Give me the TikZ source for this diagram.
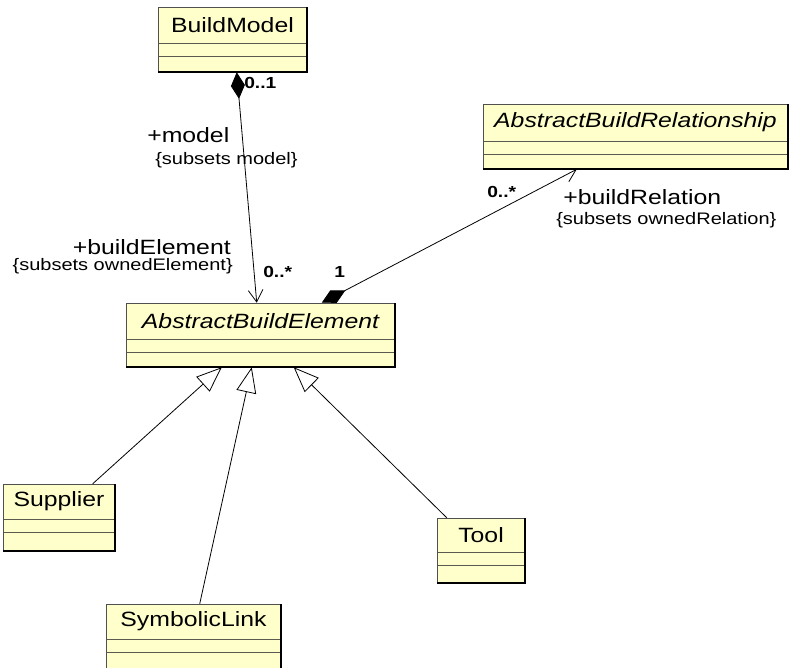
\documentclass[tikz,border=0pt]{standalone}
\usepackage{fontspec}
\setmainfont{Liberation Sans}
\newfontfamily\umlfont[FakeStretch=1.2]{Liberation Sans}
\newfontfamily\multfont[FakeStretch=1.2]{Liberation Sans}
\usetikzlibrary{arrows.meta,calc,fit}
\definecolor{classfill}{HTML}{FFFFCC}
\definecolor{compline}{HTML}{5A5A50}
\definecolor{edgegray}{HTML}{505050}
\newcommand\umlclass[9]{%
  \node[classbox, fit={(#2,#3) (#4,#5)}] (#1) {};
  \node[#8] (#1-name) at ($(#2,#3)!0.5!(#4,#6)$) {#9};
  \draw[compline, line width=0.75pt] (#2,#6) -- (#4,#6) (#2,#7) -- (#4,#7);
  \draw[edgegray, line width=0.75pt] (#2,#5) |- (#4,#3);
  \draw[black, line width=1.4pt] (#4,#3) |- (#2,#5);
}
\begin{document}
\begin{tikzpicture}[x=0.75pt,y=-0.75pt,
  classbox/.style={fill=classfill, draw=none, inner sep=0pt},
  classname/.style={font=\umlfont\fontsize{15.5}{18}\selectfont, inner sep=0pt},
  abstractname/.style={font=\umlfont\itshape\fontsize{15.5}{18}\selectfont, inner sep=0pt},
  rolename/.style={font=\umlfont\fontsize{15.5}{18}\selectfont, inner sep=0pt},
  constraint/.style={font=\umlfont\fontsize{12.5}{15}\selectfont, inner sep=0pt},
  mult/.style={font=\multfont\bfseries\fontsize{12}{14}\selectfont, inner sep=0pt},
  conn/.style={draw=black, line width=0.6pt},
  compo/.style={conn, {Diamond[length=20pt,width=10.5pt]}-{Straight Barb[length=9pt,width=11pt]}},
  gen/.style={conn, -{Triangle[length=19pt,width=15pt,fill=white]}}
]
\useasboundingbox (0,0) rectangle (790,668);

\umlclass{bm}{158}{7}{307}{72}{43}{56}{classname}{BuildModel}
\umlclass{abr}{483}{104}{788}{169}{141}{154}{abstractname}{AbstractBuildRelationship}
\umlclass{abe}{126}{303}{395}{367}{339}{352}{abstractname}{AbstractBuildElement}
\umlclass{sup}{3}{484}{115}{551}{519}{532}{classname}{Supplier}
\umlclass{tool}{437}{518}{525}{583}{552}{565}{classname}{Tool}
\umlclass{sl}{106}{604}{281}{672}{639}{652}{classname}{SymbolicLink}

% associations
\draw[compo] ($(bm.south west)+(79,0)$) -- ($(abe.north west)+(131,0)$);
\draw[compo] ($(abe.north west)+(196,0)$) -- ($(abr.south west)+(94,0)$);

% generalizations
\draw[gen] ($(sup.north west)+(90,0)$) -- ($(abe.south west)+(96,0)$);
\draw[gen] ($(sl.north west)+(94,0)$) -- ($(abe.south west)+(126,0)$);
\draw[gen] ($(tool.north west)+(10,0)$) -- ($(abe.south west)+(168,0)$);

% labels
\node[mult, anchor=base west] (m01) at (244,88) {0..1};
\node[rolename, anchor=base west] (rmodel) at (147,142) {+model};
\node[constraint, anchor=base west] (cmodel) at (155,164) {\{subsets model\}};
\node[rolename, anchor=base east] (relem) at (231,254) {+buildElement};
\node[constraint, anchor=base east] (celem) at (233,270) {\{subsets ownedElement\}};
\node[mult, anchor=base west] (m0s) at (263,277) {0..*};
\node[mult, anchor=base west] (m1) at (334,277) {1};
\node[mult, anchor=base west] (m0s2) at (487,197) {0..*};
\node[rolename, anchor=base west] (rrel) at (563,204) {+buildRelation};
\node[constraint, anchor=base west] (crel) at (556,224) {\{subsets ownedRelation\}};
\end{tikzpicture}
\end{document}
